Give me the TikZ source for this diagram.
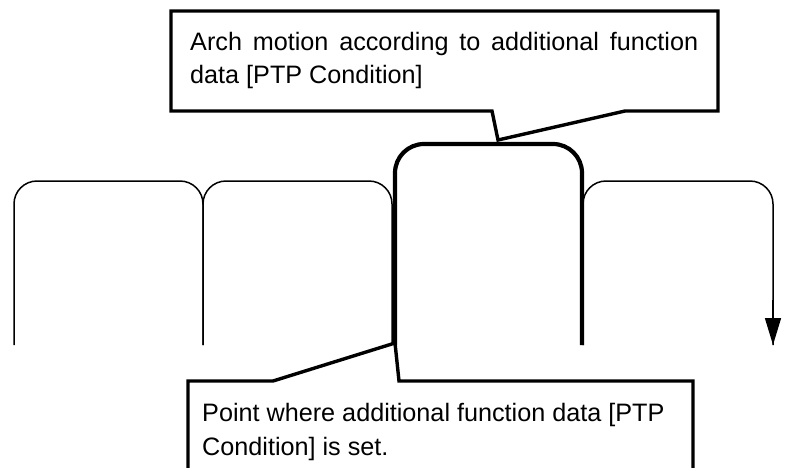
\documentclass[tikz,border=0pt]{standalone}
\usepackage{fontspec}
\setmainfont{Liberation Sans}
\usetikzlibrary{arrows.meta}
\tikzset{
  thinarch/.style={line width=1.5pt, rounded corners=23pt},
  thickarch/.style={line width=4.2pt, rounded corners=29pt},
  callout/.style={line width=3.4pt, fill=white, line join=miter},
  lbl/.style={anchor=base west, inner sep=0pt, font=\fontsize{25.2}{33}\selectfont}
}
\begin{document}
\begin{tikzpicture}[x=1pt,y=-1pt]
\useasboundingbox (0,0) rectangle (787,467);
\clip (0,0) rectangle (787,467);
% motion path
\coordinate (a1b) at (14,345);
\coordinate (a1r) at (203,345);
\coordinate (a2r) at (392,345);
\coordinate (a3l) at (395,345);
\coordinate (a3r) at (582,345);
\coordinate (a4l) at (583,345);
\coordinate (a4r) at (773,345);
\draw[thinarch] (a1b) -- (14,181) -- (203,181) -- (a1r);
\draw[thinarch] (a1r) -- (203,181) -- (392,181) -- (a2r);
\draw[thinarch] (a4l) -- (583,181) -- (773,181) -- (a4r);
\draw[line width=1.5pt, -{Triangle[width=16pt,length=27pt]}] (773,300) -- (a4r);
\draw[thickarch] (a3l) -- (395,144) -- (582,144) -- (a3r);
% top callout
\draw[callout] (171,11) -- (718,11) -- (718,111) -- (625,111) -- (498,140) coordinate (tip1) -- (492,111) -- (171,111) -- cycle;
\node[lbl] (t1) at (190,50) {\makebox[508pt][s]{Arch motion according to additional function}};
\node[lbl] (t2) at (190,83) {data [PTP Condition]};
% bottom callout
\draw[callout] (188,381) -- (273,381) -- (395,343) coordinate (tip2) -- (399,381) -- (693,381) -- (693,490) -- (188,490) -- cycle;
\node[lbl] (b1) at (202,421) {Point where additional function data [PTP};
\node[lbl] (b2) at (202,455) {Condition] is set.};
\end{tikzpicture}
\end{document}
